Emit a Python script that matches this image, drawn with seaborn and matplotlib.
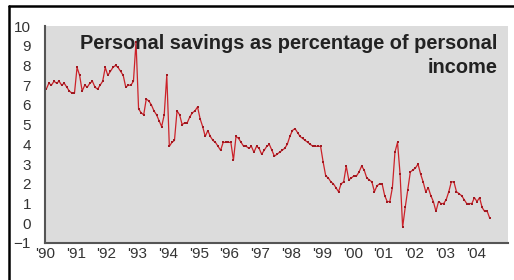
"""
personal_savings.py
Personal savings as percentage of personal income, 1990-2004 (monthly)
"""
import numpy as np
import pandas as pd
import matplotlib
matplotlib.use('Agg')
import matplotlib.pyplot as plt
from matplotlib.lines import Line2D
import seaborn as sns

# monthly values (Jan..Dec)
y1990 = [6.8, 7.1, 7.0, 7.2, 7.1, 7.2, 7.0, 7.1, 6.9, 6.7, 6.6, 6.6]
y1991 = [7.9, 7.5, 6.7, 7.0, 6.9, 7.1, 7.2, 6.9, 6.8, 7.0, 7.2, 7.9]
y1992 = [7.5, 7.7, 7.9, 8.0, 7.9, 7.7, 7.5, 6.9, 7.0, 7.0, 7.2, 9.2]
y1993 = [5.8, 5.6, 5.5, 6.3, 6.2, 6.0, 5.7, 5.5, 5.2, 4.9, 5.5, 7.5]
y1994 = [3.9, 4.1, 4.2, 5.7, 5.5, 5.0, 5.1, 5.1, 5.4, 5.6, 5.7, 5.9]
y1995 = [5.3, 4.9, 4.4, 4.7, 4.4, 4.2, 4.1, 3.9, 3.7, 4.1, 4.1, 4.1]
y1996 = [4.1, 3.2, 4.4, 4.3, 4.1, 3.9, 3.9, 3.8, 3.9, 3.6, 3.9, 3.8]
y1997 = [3.5, 3.7, 3.9, 4.0, 3.7, 3.4, 3.5, 3.6, 3.7, 3.8, 4.0, 4.4]
y1998 = [4.7, 4.8, 4.6, 4.4, 4.3, 4.2, 4.1, 4.0, 3.9, 3.9, 3.9, 3.9]
y1999 = [3.1, 2.4, 2.3, 2.1, 2.0, 1.8, 1.6, 2.0, 2.1, 2.9, 2.2, 2.3]
y2000 = [2.4, 2.4, 2.6, 2.9, 2.7, 2.3, 2.2, 2.1, 1.6, 1.9, 2.0, 2.0]
y2001 = [1.4, 1.1, 1.1, 1.8, 3.6, 4.1, 2.5, -0.2, 0.8, 1.7, 2.6, 2.7]
y2002 = [2.8, 3.0, 2.5, 2.1, 1.6, 1.8, 1.4, 1.1, 0.6, 1.1, 1.0, 1.0]
y2003 = [1.2, 1.6, 2.1, 2.1, 1.6, 1.5, 1.4, 1.2, 1.0, 1.0, 1.0, 1.3]
y2004 = [1.1, 1.3, 0.8, 0.6, 0.6, 0.25]

years = list(range(1990, 2005))
tick_labels = ["'90", "'91", "'92", "'93", "'94", "'95", "'96", "'97",
               "'98", "'99", "'00", "'01", "'02", "'03", "'04"]
title = 'Personal savings as percentage of personal\nincome'

series = [y1990, y1991, y1992, y1993, y1994, y1995, y1996, y1997,
          y1998, y1999, y2000, y2001, y2002, y2003, y2004]
rows = []
for yr, vals in zip(years, series):
    for m, v in enumerate(vals):
        rows.append({'t': yr + (m + 0.5) / 12, 'rate': v})
df = pd.DataFrame(rows)

sns.set_style('white', {'axes.facecolor': '#dcdcdc'})
plt.rcParams['font.family'] = ['Liberation Sans', 'DejaVu Sans']

fig = plt.figure(figsize=(5.14, 2.80), dpi=100)
ax = fig.add_axes([45 / 514, 1 - 243 / 280, 463 / 514, 217 / 280])

sns.lineplot(data=df, x='t', y='rate', ax=ax, color='#cc2229', linewidth=0.9,
             marker='s', markersize=1.5, markeredgewidth=0, markerfacecolor='#a01820')

ax.set_xlim(1990, 2005.05)
ax.set_ylim(-1, 10)
ax.set_xticks(years)
ax.set_xticklabels(tick_labels)
ax.set_yticks(range(-1, 11))
ax.set_xlabel('')
ax.set_ylabel('')

for s in ['top', 'right']:
    ax.spines[s].set_visible(False)
for s in ['left', 'bottom']:
    ax.spines[s].set_color('#555555')
    ax.spines[s].set_linewidth(1.5)

ax.tick_params(axis='y', direction='out', length=3, width=1, color='#555555',
               labelsize=11, labelcolor='#333333', pad=7)
ax.tick_params(axis='x', direction='inout', length=4, width=1, color='#555555',
               labelsize=11, labelcolor='#333333', pad=1)

ax.text(0.978, 0.962, title, transform=ax.transAxes, ha='right', va='top',
        fontsize=14.4, fontweight='bold', color='#222222', linespacing=1.3,
        multialignment='right')

# black frame lines (top and left edges of the box)
fig.add_artist(Line2D([9 / 514, 1], [1 - 6 / 280, 1 - 6 / 280],
                      transform=fig.transFigure, color='black', linewidth=1.8))
fig.add_artist(Line2D([9 / 514, 9 / 514], [0, 1 - 6 / 280],
                      transform=fig.transFigure, color='black', linewidth=1.8))

fig.savefig('out.png', dpi=100)
